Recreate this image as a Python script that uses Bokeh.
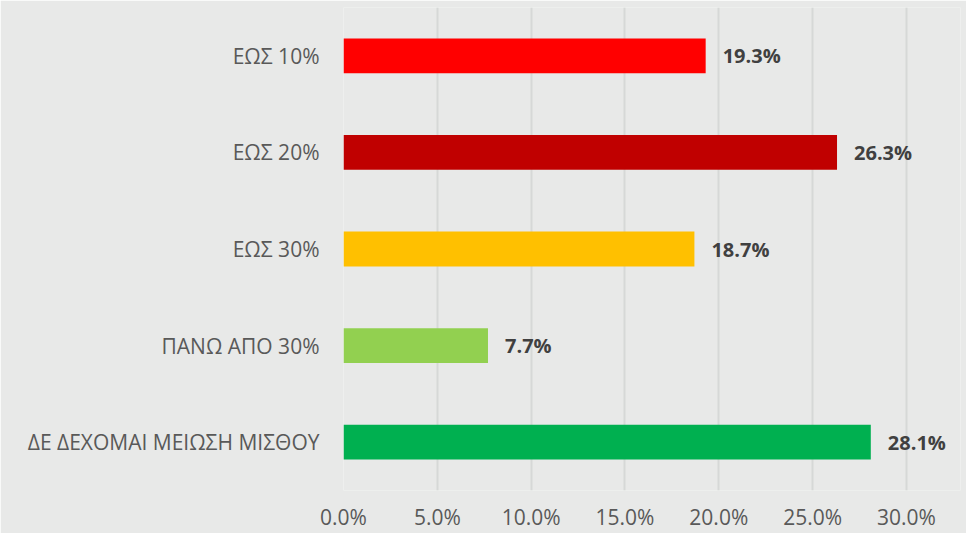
from bokeh.plotting import figure
from bokeh.models import ColumnDataSource, FactorRange, NumeralTickFormatter, FixedTicker, Range1d
from bokeh.core.properties import value
from bokeh.embed import file_html
from bokeh.resources import INLINE

categories = ["ΕΩΣ 10%", "ΕΩΣ 20%", "ΕΩΣ 30%", "ΠΑΝΩ ΑΠΟ 30%", "ΔΕ ΔΕΧΟΜΑΙ ΜΕΙΩΣΗ ΜΙΣΘΟΥ"]
values = [0.193, 0.263, 0.187, 0.077, 0.281]
colors = ["#FF0000", "#C00000", "#FFC000", "#92D050", "#00B050"]
ticks = [0.0, 0.05, 0.10, 0.15, 0.20, 0.25, 0.30]

labels = [f"{v*100:.1f}%" for v in values]
src = ColumnDataSource(dict(cat=categories, val=values, color=colors, label=labels))

BG = "#E8E9E8"
p = figure(width=966, height=533, output_backend="svg", toolbar_location=None,
           y_range=FactorRange(*categories[::-1], range_padding=0),
           x_range=Range1d(0, 0.3288),
           min_border_left=343, min_border_right=6, min_border_top=7, min_border_bottom=41)
p.background_fill_color = BG
p.border_fill_color = BG
p.outline_line_color = None

p.hbar(y="cat", right="val", left=0, height=0.36, fill_color="color", line_color=None, source=src)
p.text(x="val", y="cat", text="label", source=src, x_offset=17, text_baseline="middle",
       text_align="left", text_font=value("Open Sans"), text_font_style="bold",
       text_font_size="20px", text_color="#404040")

p.xaxis.ticker = FixedTicker(ticks=ticks)
p.xaxis.formatter = NumeralTickFormatter(format="0.0%")
p.xaxis.axis_line_color = None
p.xaxis.major_tick_line_color = None
p.xaxis.minor_tick_line_color = None
p.xaxis.major_tick_out = 0
p.xaxis.major_tick_in = 0
p.xaxis.minor_tick_out = 0
p.xaxis.major_label_text_font = "Open Sans"
p.xaxis.major_label_text_font_size = "21px"
p.xaxis.major_label_text_color = "#595959"
p.xaxis.major_label_standoff = 12

p.yaxis.axis_line_color = None
p.yaxis.major_tick_line_color = None
p.yaxis.minor_tick_line_color = None
p.yaxis.major_tick_out = 0
p.yaxis.major_tick_in = 0
p.yaxis.minor_tick_out = 0
p.yaxis.major_label_text_font = "Open Sans"
p.yaxis.major_label_text_font_size = "21px"
p.yaxis.major_label_text_color = "#595959"
p.yaxis.major_label_standoff = 24

p.ygrid.grid_line_color = None
p.xgrid.grid_line_color = "#D6D8D7"
p.xgrid.grid_line_width = 2

open("out.html", "w").write(file_html(p, INLINE))
